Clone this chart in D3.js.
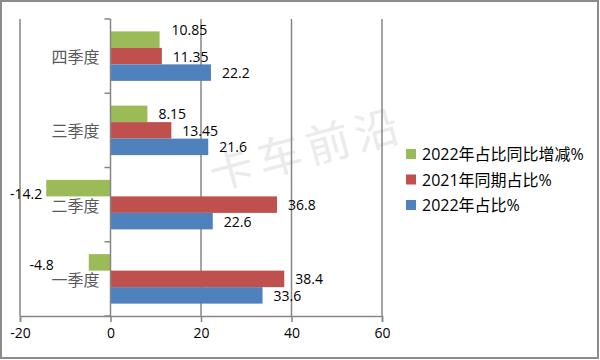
<!DOCTYPE html>
<html><head><meta charset="utf-8">
<script src="https://cdn.jsdelivr.net/npm/d3@7"></script>
<style>html,body{margin:0;padding:0;background:#fff;}svg{display:block;}</style>
</head><body>
<script>
const categories = ["一季度", "二季度", "三季度", "四季度"];
const share2022 = [33.6, 22.6, 21.6, 22.2];
const share2021 = [38.4, 36.8, 13.45, 11.35];
const change2022 = [-4.8, -14.2, 8.15, 10.85];
const xTicks = [-20, 0, 20, 40, 60];
const seriesNames = ["2022年占比同比增减%", "2021年同期占比%", "2022年占比%"];

const series = [
  {key: "chg", name: seriesNames[0], values: change2022, color: "#9BBB59"},
  {key: "s21", name: seriesNames[1], values: share2021, color: "#C0504D"},
  {key: "s22", name: seriesNames[2], values: share2022, color: "#4F81BD"}
];
// manual label nudges (as in the source chart)
const nudge = {"chg|四季度": [1, -10], "chg|二季度": [7, 5], "chg|一季度": [-24, 2]};

const W = 600, H = 360;
const svg = d3.select("body").append("svg").attr("width", W).attr("height", H);
svg.append("rect").attr("x", 1).attr("y", 1).attr("width", W - 3).attr("height", H - 3)
  .attr("fill", "#fff").attr("stroke", "#8c8c8c").attr("stroke-width", 2);

const pTop = 19, pBottom = 316, pLeft = 20, pRight = 382;
const x = d3.scaleLinear().domain([-20, 60]).range([pLeft, pRight]);
const y = d3.scaleBand().domain(categories.slice().reverse()).range([pTop, pBottom]).padding(0);
const yi = d3.scaleBand().domain(series.map(s => s.key)).range([0, y.bandwidth()])
  .paddingInner(0).paddingOuter(0.75);

// watermark
svg.append("text").text("卡车前沿")
  .attr("x", 0).attr("y", 0)
  .attr("transform", "translate(306,146) rotate(-15)")
  .attr("text-anchor", "middle").attr("dominant-baseline", "central")
  .style("font-family", "'Noto Sans CJK SC'").style("font-size", "44px")
  .style("letter-spacing", "6px")
  .attr("fill", "#ebebeb");

// gridlines
const gridG = svg.append("g");
xTicks.filter(t => t !== 0).forEach(t => {
  gridG.append("line").attr("x1", x(t)).attr("x2", x(t)).attr("y1", pTop).attr("y2", pBottom)
    .attr("stroke", "#868686").attr("stroke-width", 1.5);
});

// bars
series.forEach(s => {
  const g = svg.append("g");
  categories.forEach((c, i) => {
    const v = s.values[i];
    g.append("rect")
      .attr("x", x(Math.min(0, v))).attr("width", Math.abs(x(v) - x(0)))
      .attr("y", y(c) + yi(s.key)).attr("height", yi.bandwidth())
      .attr("fill", s.color);
  });
});

// category axis (zero line)
const zx = x(0);
svg.append("line").attr("x1", zx).attr("x2", zx).attr("y1", pTop).attr("y2", pBottom)
  .attr("stroke", "#868686").attr("stroke-width", 1.5);
const bounds = categories.map(c => y(c)).concat([pBottom]);
bounds.forEach(b => {
  svg.append("line").attr("x1", zx - 6).attr("x2", zx).attr("y1", b).attr("y2", b)
    .attr("stroke", "#868686").attr("stroke-width", 1.5);
});
categories.forEach(c => {
  svg.append("text").text(c).attr("x", zx - 11).attr("y", y(c) + y.bandwidth() / 2)
    .attr("text-anchor", "end").attr("dominant-baseline", "central")
    .attr("font-family", "Noto Sans CJK SC").attr("font-size", 16).attr("fill", "#595959");
});

// value axis
const xAxis = d3.axisBottom(x).tickValues(xTicks).tickSize(6).tickPadding(6).tickFormat(d3.format("d"));
const ax = svg.append("g").attr("transform", `translate(0,${pBottom})`).call(xAxis);
ax.select(".domain").attr("stroke", "#868686").attr("stroke-width", 1.5);
ax.selectAll(".tick line").attr("stroke", "#868686").attr("stroke-width", 1.5);
ax.selectAll(".tick text").attr("font-family", "Open Sans").attr("font-size", 14)
  .attr("fill", "#000").text(d => d < 0 ? "-" + Math.abs(d) : d);

// value labels
series.forEach(s => {
  categories.forEach((c, i) => {
    const v = s.values[i];
    const n = nudge[s.key + "|" + c] || [0, 0];
    svg.append("text").text(String(v))
      .attr("x", x(v) + (v >= 0 ? 11 : -11) + n[0])
      .attr("y", y(c) + yi(s.key) + yi.bandwidth() / 2 + n[1])
      .attr("text-anchor", v >= 0 ? "start" : "end").attr("dominant-baseline", "central")
      .attr("font-family", "Open Sans").attr("font-size", 14).attr("fill", "#000");
  });
});

// legend
const lg = svg.append("g");
series.forEach((s, i) => {
  const cy = 154 + i * 25.5;
  lg.append("rect").attr("x", 406).attr("y", cy - 5).attr("width", 10).attr("height", 10).attr("fill", s.color);
  lg.append("text").text(s.name).attr("x", 422).attr("y", cy)
    .attr("dominant-baseline", "central")
    .attr("font-family", "'Open Sans','Noto Sans CJK SC'").attr("font-size", 16).attr("fill", "#000");
});
</script>
</body></html>
